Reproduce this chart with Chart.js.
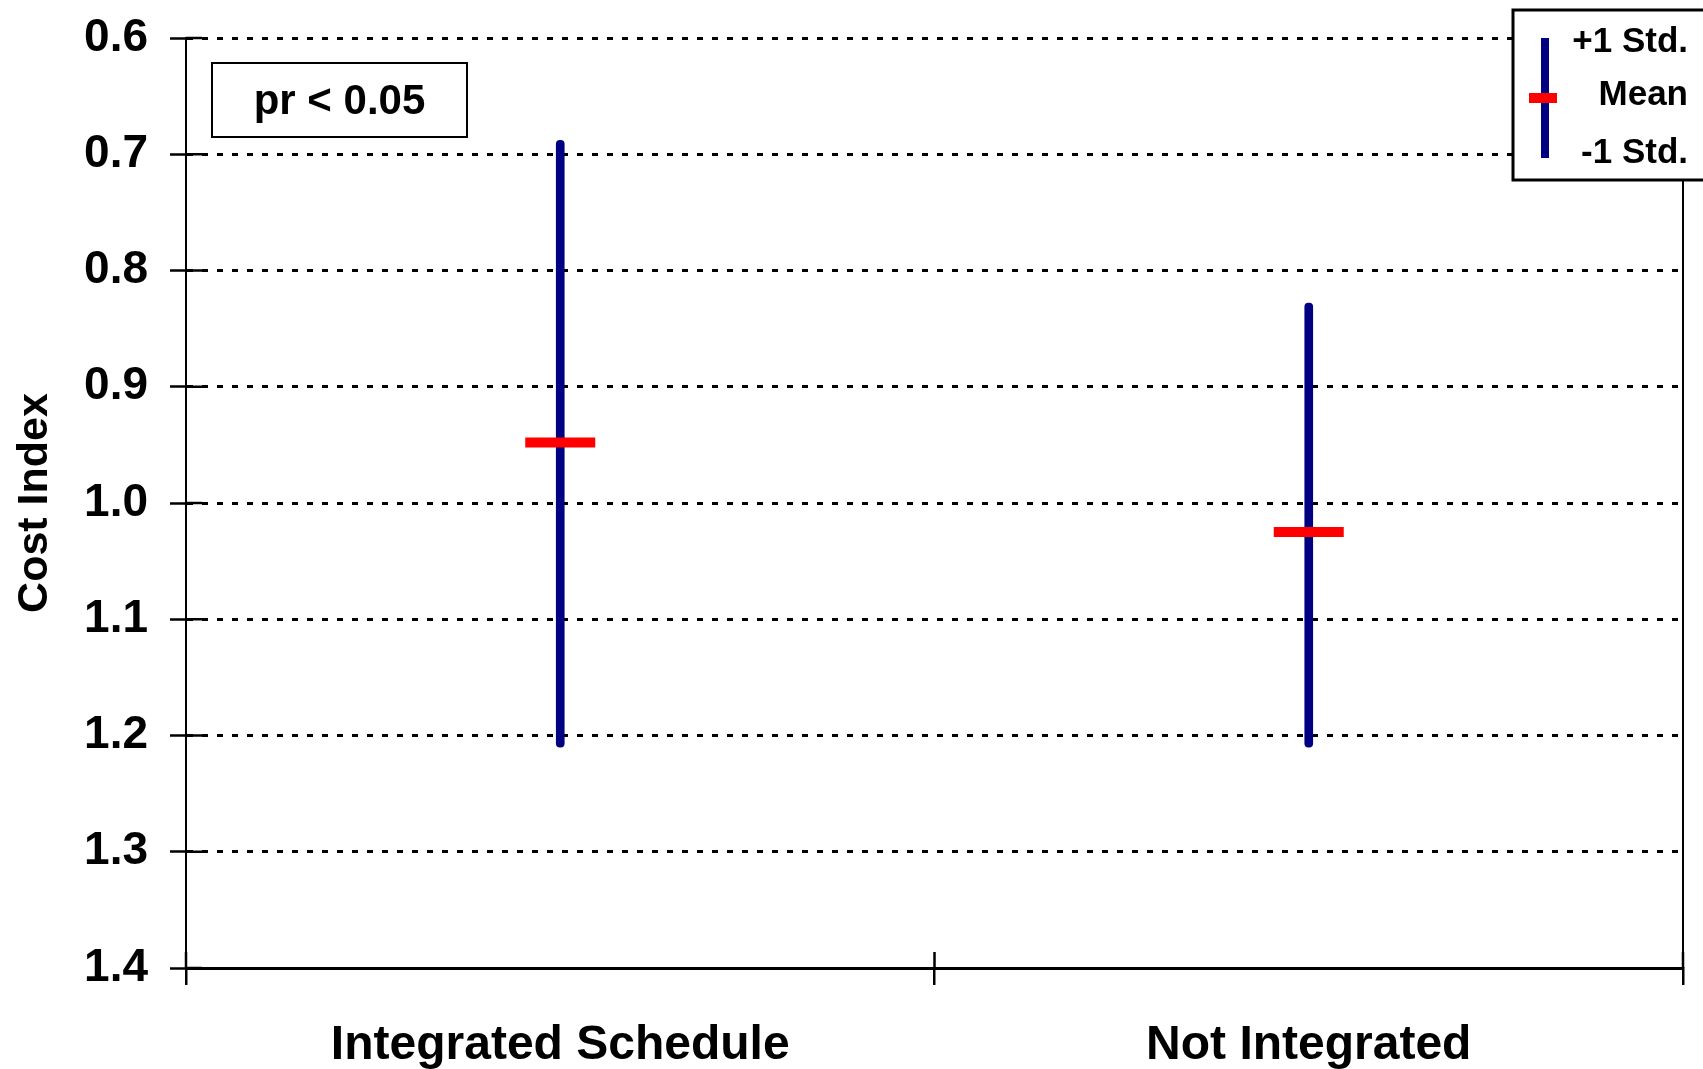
<!DOCTYPE html>
<html>
<head>
<meta charset="utf-8">
<script src="https://cdn.jsdelivr.net/npm/chart.js@4.4.0/dist/chart.umd.min.js"></script>
<style>
  html, body { margin: 0; padding: 0; background: #fff; }
  #chart { display: block; }
</style>
</head>
<body>
<canvas id="chart" width="1703" height="1069"></canvas>
<script>
// values
const categories = ['Integrated Schedule', 'Not Integrated'];
const plusOneStd = [0.688, 0.828];
const meanValues = [0.948, 1.025];
const minusOneStd = [1.210, 1.210];
const yTicks = [0.6, 0.7, 0.8, 0.9, 1.0, 1.1, 1.2, 1.3, 1.4];

const FONT = '"Liberation Sans", Arial, Helvetica, sans-serif';
const NAVY = '#000080';
const RED = '#ff0000';

// extra bits: crossing ticks, right border, p-value box and the legend
const extras = {
    id: 'extras',
    afterDraw(chart) {
        const ctx = chart.ctx;
        const area = chart.chartArea;
        const x = chart.scales.x;
        const y = chart.scales.y;
        ctx.save();

        // right border
        ctx.strokeStyle = '#000';
        ctx.lineWidth = 2;
        ctx.beginPath();
        ctx.moveTo(area.right, area.top);
        ctx.lineTo(area.right, area.bottom);
        ctx.stroke();

        // y ticks cross the axis to the inside
        ctx.lineWidth = 2.5;
        yTicks.forEach(v => {
            const py = y.getPixelForValue(v);
            ctx.beginPath();
            ctx.moveTo(area.left, py);
            ctx.lineTo(area.left + 16, py);
            ctx.stroke();
        });

        // x ticks at category edges, upper half
        const step = x.getPixelForTick(1) - x.getPixelForTick(0);
        for (let i = 0; i <= categories.length; i++) {
            const px = x.getPixelForTick(0) + (i - 0.5) * step;
            ctx.beginPath();
            ctx.moveTo(px, area.bottom);
            ctx.lineTo(px, area.bottom - 16);
            ctx.stroke();
        }

        // p-value box
        ctx.fillStyle = '#fff';
        ctx.fillRect(212, 63, 255, 74);
        ctx.lineWidth = 2;
        ctx.strokeRect(212, 63, 255, 74);
        ctx.fillStyle = '#000';
        ctx.font = 'bold 42px ' + FONT;
        ctx.textAlign = 'center';
        ctx.textBaseline = 'middle';
        ctx.fillText('pr < 0.05', 339.5, 102);

        // legend
        ctx.fillStyle = '#fff';
        ctx.fillRect(1513, 10, 200, 170);
        ctx.lineWidth = 3;
        ctx.strokeRect(1513, 10, 200, 170);
        ctx.strokeStyle = NAVY;
        ctx.lineWidth = 8;
        ctx.beginPath();
        ctx.moveTo(1545, 38);
        ctx.lineTo(1545, 158);
        ctx.stroke();
        ctx.fillStyle = RED;
        ctx.fillRect(1529, 93, 28, 10);
        ctx.fillStyle = '#000';
        ctx.font = 'bold 35px ' + FONT;
        ctx.textAlign = 'right';
        ctx.fillText('+1 Std.', 1688, 42);
        ctx.fillText('Mean', 1688, 95);
        ctx.fillText('-1 Std.', 1688, 153);

        ctx.restore();
    }
};

const ranges = categories.map((c, i) => [plusOneStd[i], minusOneStd[i]]);

new Chart(document.getElementById('chart'), {
    type: 'bar',
    data: {
        labels: categories,
        datasets: [
            {
                type: 'line',
                label: 'Mean',
                data: meanValues,
                showLine: false,
                pointStyle: 'line',
                pointRadius: 35,
                pointHoverRadius: 35,
                borderWidth: 10,
                borderColor: RED,
                backgroundColor: RED,
                order: 0
            },
            {
                label: '+/-1 Std.',
                data: ranges,
                backgroundColor: NAVY,
                borderWidth: 0,
                barThickness: 8,
                borderRadius: 4,
                borderSkipped: false,
                grouped: false,
                order: 1
            }
        ]
    },
    options: {
        responsive: false,
        animation: false,
        layout: {
            autoPadding: false,
            padding: { top: 38, right: 20, left: 0, bottom: 0 }
        },
        plugins: {
            legend: { display: false },
            tooltip: { enabled: false }
        },
        scales: {
            x: {
                offset: true,
                grid: {
                    offset: true,
                    drawOnChartArea: false,
                    color: '#000',
                    lineWidth: 2.5,
                    tickLength: 17
                },
                border: { color: '#000', width: 3 },
                ticks: {
                    color: '#000',
                    padding: 32,
                    font: { family: FONT, size: 48, weight: 'bold' }
                },
                afterFit: s => {
                    s.height = 101;
                    s.paddingLeft = 0;
                    s.paddingRight = 0;
                }
            },
            y: {
                reverse: true,
                min: 0.6,
                max: 1.4,
                afterBuildTicks: s => { s.ticks = yTicks.map(v => ({ value: v })); },
                grid: {
                    color: '#000',
                    lineWidth: 3,
                    tickLength: 16,
                    tickColor: '#000',
                    tickWidth: 2.5
                },
                border: { color: '#000', width: 2, dash: [6, 9] },
                ticks: {
                    color: '#000',
                    padding: 22,
                    font: { family: FONT, size: 46, weight: 'bold' },
                    callback: v => Number(v).toFixed(1)
                },
                title: {
                    display: true,
                    text: 'Cost Index',
                    color: '#000',
                    padding: { top: 9, bottom: 0 },
                    font: { family: FONT, size: 43, weight: 'bold' }
                },
                afterFit: s => {
                    s.width = 186;
                    s.paddingTop = 0;
                    s.paddingBottom = 0;
                }
            }
        }
    },
    plugins: [extras]
});
</script>
</body>
</html>
